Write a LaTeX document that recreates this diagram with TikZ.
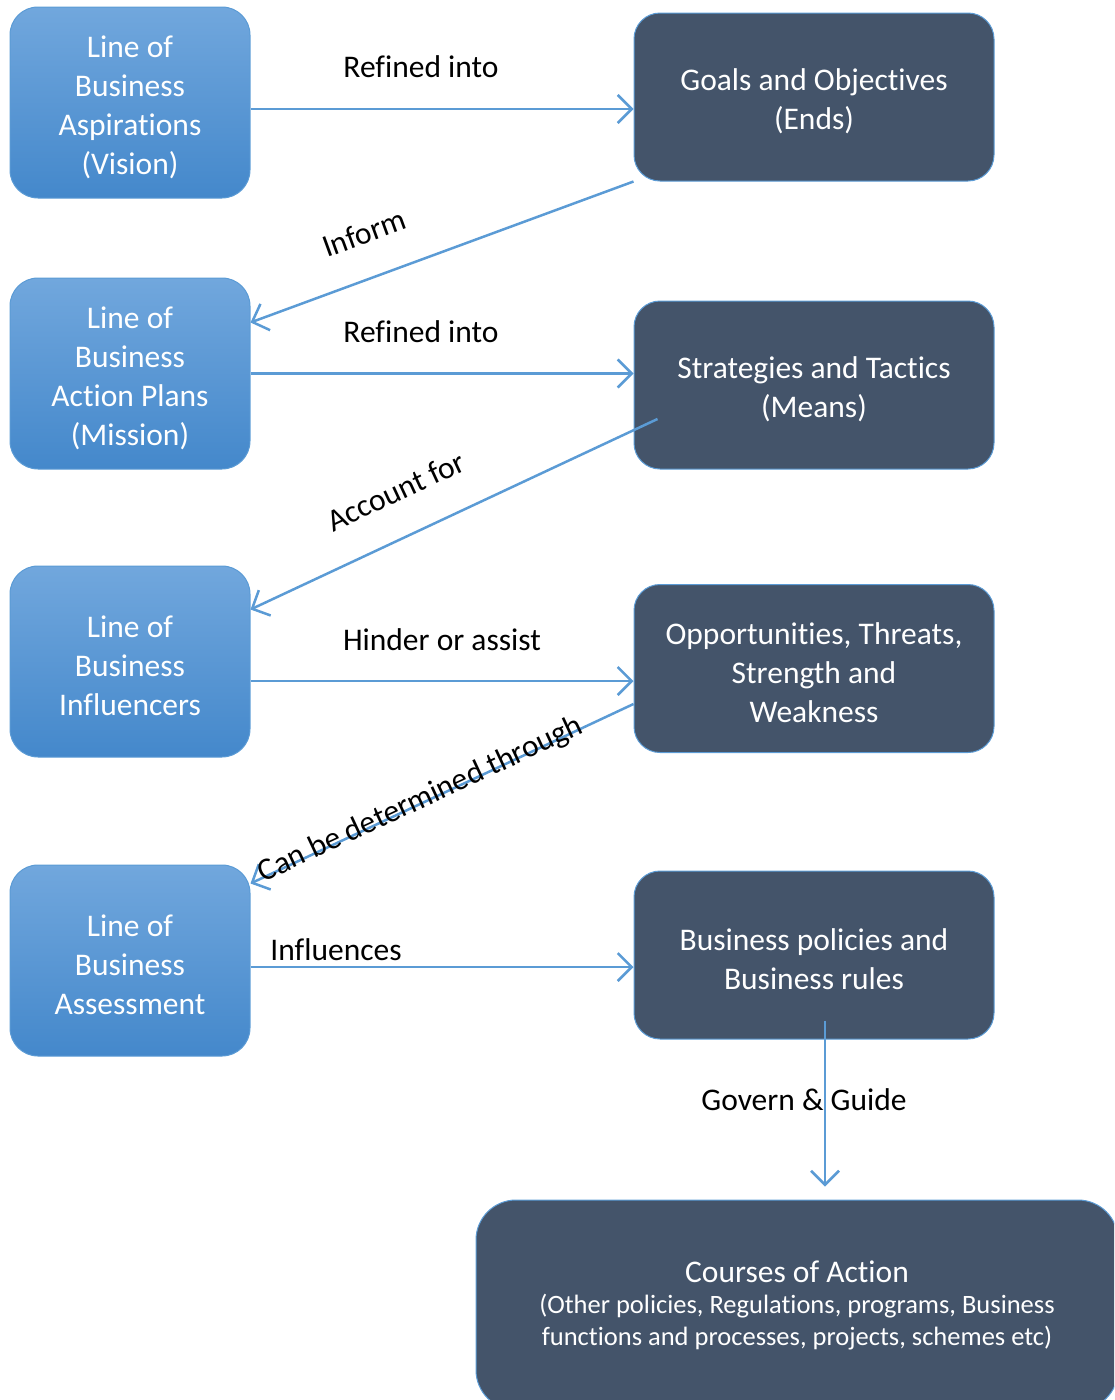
\documentclass[tikz,border=0pt]{standalone}
\usepackage{fontspec}
\setmainfont[Ligatures=NoCommon]{Carlito}
\usetikzlibrary{arrows.meta,calc}
\definecolor{lineblue}{RGB}{91,155,213}
\definecolor{slate}{RGB}{68,84,106}
\definecolor{gtop}{RGB}{113,167,221}
\definecolor{gbot}{RGB}{68,136,203}
\tikzset{
  bigfont/.style={font=\fontsize{31.5}{39}\selectfont},
  intext/.style={text=white, bigfont, align=center, inner sep=0pt, yshift=-4.5pt},
  lbox/.style={draw=lineblue, line width=1pt, rounded corners=28pt, top color=gtop, bottom color=gbot,
    minimum width=240pt, minimum height=191pt, inner sep=0pt},
  rbox/.style={draw=lineblue, line width=1pt, rounded corners=26pt, fill=slate,
    minimum width=360pt, minimum height=168pt, inner sep=0pt},
  conn/.style={draw=lineblue, line width=2.5pt, -{Straight Barb[length=14pt,width=28pt,line width=2.5pt]}},
  lab/.style={text=black, bigfont, inner sep=0pt},
}
\begin{document}
\begin{tikzpicture}[x=1pt,y=-1pt]
\clip (0,0) rectangle (1114,1400);
% left boxes
\node[lbox, label={[intext]center:{Line of\\Business\\Aspirations\\(Vision)}}] (l1) at (130,102.5) {};
\node[lbox, label={[intext]center:{Line of\\Business\\Action Plans\\(Mission)}}] (l2) at (130,373.5) {};
\node[lbox, label={[intext]center:{Line of\\Business\\Influencers}}] (l3) at (130,661.5) {};
\node[lbox, label={[intext]center:{Line of\\Business\\Assessment}}] (l4) at (130,960.5) {};
% right boxes
\node[rbox, label={[intext]center:{Goals and Objectives\\(Ends)}}] (r1) at (814,97) {};
\node[rbox, label={[intext]center:{Strategies and Tactics\\(Means)}}] (r2) at (814,385) {};
\node[rbox, label={[intext]center:{Opportunities, Threats,\\Strength and\\Weakness}}] (r3) at (814,668.5) {};
\node[rbox, label={[intext]center:{Business policies and\\Business rules}}] (r4) at (814,955) {};
\node[draw=lineblue, line width=1pt, rounded corners=40pt, fill=slate, minimum width=642pt, minimum height=210pt,
  inner sep=0pt, text=white, align=center, font=\fontsize{26.5}{32}\selectfont] (bot) at (797,1305)
  {{\fontsize{31.5}{36}\selectfont Courses of Action}\\[-1pt](Other policies, Regulations, programs, Business\\functions and processes, projects, schemes etc)};
% horizontal connectors
\draw[conn] ([yshift=-6.5pt]l1.east) -- ([yshift=-6.5pt]l1.east -| r1.west);
\draw[conn] (l2.east) -- (l2.east -| r2.west);
\draw[conn] ([yshift=-19.5pt]l3.east) -- ([yshift=-19.5pt]l3.east -| r3.west);
\draw[conn] ([yshift=-6.5pt]l4.east) -- ([yshift=-6.5pt]l4.east -| r4.west);
% diagonal connectors
\draw[conn] (r1.south west) -- ([yshift=-45pt]l2.north east);
\draw[conn] ([xshift=24pt,yshift=-34pt]r2.west) -- ([yshift=-44pt]l3.north east);
\draw[conn] ([yshift=49pt]r3.south west) -- ([yshift=-19pt]l4.north east);
% vertical connector
\coordinate (vs) at ([xshift=11pt,yshift=19pt]r4.south);
\coordinate (ve) at ([yshift=13pt]bot.north);
\draw[conn] (vs) -- (vs |- ve);
% labels
\node[lab] (t1) at (421,67) {Refined into};
\node[lab, rotate=20] (t2) at (364,233) {Inform};
\node[lab] (t3) at (421,332) {Refined into};
\node[lab, rotate=25] (t4) at (396,491) {Account for};
\node[lab] (t5) at (442,640) {Hinder or assist};
\node[lab, rotate=25] (t6) at (421,800) {Can be determined through};
\node[lab] (t7) at (336,950) {Influences};
\node[lab] (t8) at (804,1100) {Govern \& Guide};
\end{tikzpicture}
\end{document}
